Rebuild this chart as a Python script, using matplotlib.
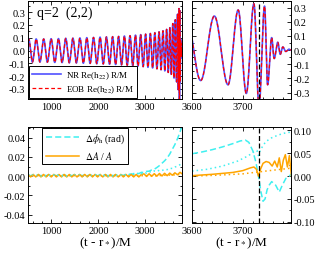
import numpy as np
import matplotlib
matplotlib.use("Agg")
import matplotlib.pyplot as plt
from matplotlib.ticker import MultipleLocator, FormatStrFormatter

plt.rcParams['font.family'] = ['Liberation Serif', 'DejaVu Serif']
plt.rcParams['mathtext.fontset'] = 'stix'

# waveform extrema (time, Re(h22) R/M)
ext_t = [433, 513, 593, 673, 753, 833, 912, 992, 1070, 1149, 1226, 1304, 1380, 1457,
         1532, 1607, 1680, 1754, 1825, 1897, 1967, 2037, 2105, 2173, 2239, 2305,
         2369, 2433, 2495, 2557, 2617, 2677, 2735, 2793, 2848, 2904, 2957, 3010,
         3060, 3111, 3159, 3207, 3252, 3297, 3339, 3381, 3420, 3458, 3493, 3528,
         3559, 3590, 3617, 3644, 3671, 3691, 3707, 3722, 3732, 3743, 3749, 3757,
         3762, 3769, 3774, 3779, 3785, 3791, 3797, 3803]
ext_h = [-0.088, 0.09, -0.09, 0.09, -0.09, 0.09, -0.091, 0.092, -0.093, 0.093, -0.094,
         0.095, -0.096, 0.096, -0.097, 0.098, -0.099, 0.10, -0.101, 0.102, -0.103,
         0.104, -0.105, 0.106, -0.107, 0.108, -0.109, 0.11, -0.112, 0.113, -0.115,
         0.116, -0.118, 0.12, -0.122, 0.124, -0.126, 0.128, -0.131, 0.133, -0.136,
         0.139, -0.143, 0.146, -0.15, 0.154, -0.159, 0.165, -0.171, 0.178, -0.186,
         0.21, -0.215, 0.24, -0.245, 0.283, -0.306, 0.327, -0.40, 0.31, -0.245,
         0.088, -0.06, 0.055, -0.03, 0.022, -0.01, 0.006, -0.003, 0.001]

# lower left: differences (grid every 55 M from 500)
tL = np.arange(500, 3801, 55)
dA_L = [0.0018, -0.0008] * 22 + [0.0018,
        0.0024, -0.0003, 0.0025, -0.0002, 0.0026, 0.0, 0.0028, 0.0002, 0.003, 0.0005,
        0.0032, 0.001, 0.0035, 0.0015, 0.004, 0.002]
dphi_L = [0.0016, 0.0004] * 18 + [
        0.0016, 0.0008, 0.002, 0.0012, 0.0024, 0.0018, 0.003, 0.0027, 0.004, 0.0038,
        0.005, 0.0052, 0.0065, 0.0072, 0.009, 0.011, 0.0135, 0.016, 0.019, 0.023,
        0.028, 0.033, 0.039, 0.046, 0.055]
dphi_dot_L = [0.0012, 0.0] * 18 + [0.0012,
        0.0018, 0.0008, 0.0022, 0.0012, 0.0028, 0.0018, 0.0034, 0.0025, 0.004, 0.0032,
        0.0047, 0.004, 0.0055, 0.0048, 0.0063, 0.0058, 0.0072, 0.0068, 0.0082, 0.008,
        0.0095, 0.0105, 0.012, 0.014]
dA_dot_L = [0.0006, 0.0002] * 25 + [0.0006,
        0.0008, 0.0006, 0.001, 0.0008, 0.0012, 0.001, 0.0014, 0.0015, 0.0018, 0.002]

# lower right
tR_phi = [3600, 3620, 3640, 3660, 3680, 3695, 3705, 3712, 3720, 3726, 3731, 3736,
          3740, 3744, 3748, 3752, 3757, 3765, 3772, 3778, 3785, 3792, 3800]
dphi_R = [0.049, 0.053, 0.058, 0.064, 0.071, 0.077, 0.079, 0.074, 0.055, 0.03, 0.0,
          -0.035, -0.055, -0.05, -0.03, -0.02, -0.012, -0.02, -0.035, -0.02, -0.005,
          0.0, 0.01]
tR_phidot = [3600, 3630, 3660, 3690, 3710, 3722, 3728, 3731, 3735, 3745, 3755, 3770,
             3785, 3800]
dphi_dot_R = [0.011, 0.015, 0.022, 0.033, 0.044, 0.053, 0.056, 0.045, 0.058, 0.075,
              0.083, 0.09, 0.095, 0.097]
tR_A = [3600, 3640, 3680, 3700, 3715, 3722, 3727, 3731, 3735, 3740, 3746, 3752, 3758,
        3763, 3768, 3772, 3776, 3780, 3784, 3788, 3792, 3796, 3800]
dA_R = [0.001, 0.004, 0.008, 0.012, 0.018, 0.02, 0.015, 0.0, 0.015, 0.028, 0.032,
        0.03, 0.022, 0.033, 0.02, 0.04, 0.01, 0.035, 0.047, 0.02, 0.045, 0.0, -0.01]
tR_Adot = [3600, 3650, 3700, 3730, 3760, 3800]
dA_dot_R = [0.0, 0.002, 0.005, 0.009, 0.013, 0.018]

t_merger = 3732

# smooth curve through the read extrema (half-cosine between neighbours)
tw, hw = [], []
for i in range(len(ext_t) - 1):
    s = np.linspace(0, 1, 30, endpoint=False)
    a, b = ext_h[i], ext_h[i + 1]
    tw.extend(ext_t[i] + s * (ext_t[i + 1] - ext_t[i]))
    hw.extend((a + b) / 2 + (a - b) / 2 * np.cos(np.pi * s))
tw = np.array(tw)
hw = np.array(hw)

fig = plt.figure(figsize=(3.19, 2.55), dpi=100)
axTL = fig.add_axes([0.088, 0.608, 0.483, 0.384])
axTR = fig.add_axes([0.602, 0.608, 0.310, 0.384])
axBL = fig.add_axes([0.088, 0.121, 0.483, 0.376])
axBR = fig.add_axes([0.602, 0.121, 0.310, 0.376])

blue = '#5050ff'
red = '#ff0000'
cyan = '#3ff0f0'
orange = '#ffa500'

for ax in (axTL, axTR):
    ax.plot(tw, hw, color=blue, lw=1.2, label='NR Re(h$_{22}$) R/M')
    ax.plot(tw, hw, color=red, lw=0.9, ls=(0, (3, 2)), label='EOB Re(h$_{22}$) R/M')

axBL.plot(tL, dphi_L, color=cyan, lw=1.1, ls=(0, (4, 2)), label=r'$\Delta\phi_{\rm h}$ (rad)')
axBL.plot(tL, dA_L, color=orange, lw=1.1, label=r'$\Delta A$ / $A$')
axBL.plot(tL, dphi_dot_L, color=cyan, lw=1.1, ls=(0, (1, 2)))
axBL.plot(tL, dA_dot_L, color=orange, lw=1.1, ls=(0, (1, 2)))

axBR.plot(tR_phi, dphi_R, color=cyan, lw=1.1, ls=(0, (4, 2)))
axBR.plot(tR_A, dA_R, color=orange, lw=1.1)
axBR.plot(tR_phidot, dphi_dot_R, color=cyan, lw=1.1, ls=(0, (1, 2)))
axBR.plot(tR_Adot, dA_dot_R, color=orange, lw=1.1, ls=(0, (1, 2)))

for ax in (axTR, axBR):
    ax.axvline(t_merger, color='black', lw=0.9, ls=(0, (4, 2)))

axTL.set_xlim(500, 3790)
axBL.set_xlim(500, 3790)
axTR.set_xlim(3600, 3795)
axBR.set_xlim(3600, 3795)
axTL.set_ylim(-0.378, 0.386)
axTR.set_ylim(-0.345, 0.346)
axBL.set_ylim(-0.049, 0.051)
axBR.set_ylim(-0.103, 0.107)

for ax in (axTL, axBL):
    ax.xaxis.set_major_locator(MultipleLocator(1000))
    ax.xaxis.set_minor_locator(MultipleLocator(200))
for ax in (axTR, axBR):
    ax.xaxis.set_major_locator(MultipleLocator(100))
    ax.xaxis.set_minor_locator(MultipleLocator(20))
    ax.yaxis.tick_right()
for ax in (axTL, axTR):
    ax.yaxis.set_major_locator(MultipleLocator(0.1))
    ax.yaxis.set_minor_locator(MultipleLocator(0.05))
    ax.yaxis.set_major_formatter(FormatStrFormatter('%.1f'))
axBL.yaxis.set_major_locator(MultipleLocator(0.02))
axBL.yaxis.set_minor_locator(MultipleLocator(0.01))
axBL.yaxis.set_major_formatter(FormatStrFormatter('%.2f'))
axBR.yaxis.set_major_locator(MultipleLocator(0.05))
axBR.yaxis.set_minor_locator(MultipleLocator(0.025))
axBR.yaxis.set_major_formatter(FormatStrFormatter('%.2f'))

for ax in (axTL, axTR, axBL, axBR):
    ax.tick_params(which='both', direction='in', top=True, bottom=True, left=True,
                   right=True, labelsize=7.5, pad=2, width=0.6)
    ax.tick_params(which='major', length=3)
    ax.tick_params(which='minor', length=1.5)
    for sp in ax.spines.values():
        sp.set_linewidth(0.7)
for ax in (axTR, axBR):
    ax.tick_params(labelleft=False, labelright=True)

axTL.text(0.06, 0.95, 'q=2  (2,2)', transform=axTL.transAxes, fontsize=10, va='top')

lg = axTL.legend(loc='lower left', fontsize=6.5, handlelength=3.2, borderpad=0.3,
                 labelspacing=0.3, handletextpad=0.6, fancybox=False, framealpha=1,
                 borderaxespad=0.15)
lg.get_frame().set_edgecolor('black')
lg.get_frame().set_linewidth(0.7)
lg2 = axBL.legend(loc='upper center', fontsize=7, handlelength=3.4, borderpad=0.35,
                  labelspacing=0.4, handletextpad=0.6, fancybox=False, framealpha=1,
                  bbox_to_anchor=(0.37, 1.0), borderaxespad=0.1)
lg2.get_frame().set_edgecolor('black')
lg2.get_frame().set_linewidth(0.7)

axBL.set_xlabel(r'(t - r$_*$)/M', fontsize=9.5, labelpad=0)
axBR.set_xlabel(r'(t - r$_*$)/M', fontsize=9.5, labelpad=0)

fig.savefig('out.png', dpi=100)
